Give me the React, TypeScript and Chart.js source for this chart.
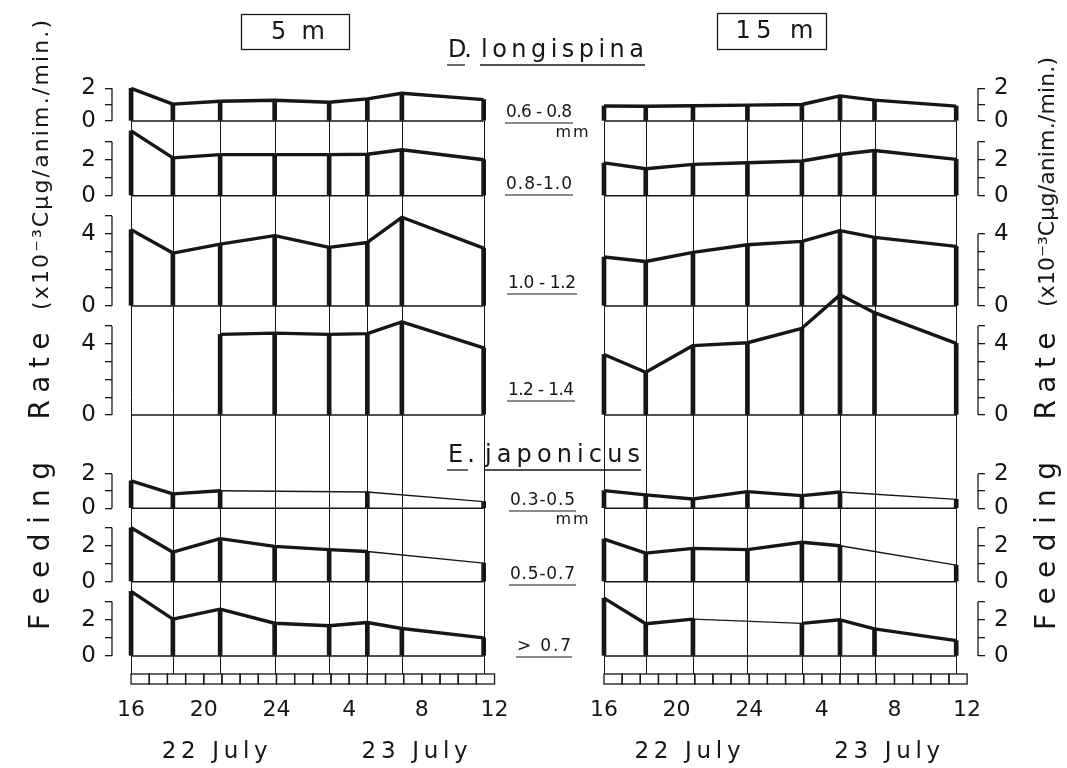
import React, { useEffect, useRef } from 'react';
import { Chart, registerables } from 'chart.js';

Chart.register(...registerables);

const FONT = '"DejaVu Sans", "Liberation Sans", Arial, sans-serif';
const INK = '#161616';

// ---------------- data ----------------
// sampling times, hours after 16:00 on 22 July
const sampleHours = [0, 2.3, 4.9, 7.9, 10.9, 13, 14.9, 19.4];
const hourTicks = [0, 4, 8, 12, 16, 20];
const hourLabels = ['16', '20', '24', '4', '8', '12'];
const dateHours = [4.6, 15.6];
const dateLabels = ['22 July', '23 July'];
const depthLabels = ['5 m', '15 m'];
const genusLabels = ['D.', 'E.'];
const speciesLabels = ['longispina', 'japonicus'];
const sizeClasses = ['0.6 - 0.8', '0.8-1.0', '1.0 - 1.2', '1.2 - 1.4', '0.3-0.5', '0.5-0.7', '> 0.7'];
const sizeUnit = 'mm';
const titleFeeding = 'Feeding';
const titleRate = 'Rate';
const titleUnit = '(x10\u207B\u00B3C\u03BCg/anim./min.)';

// feeding rate, x10^-3 C ug / animal / min ; null = not measured
// 5 m
const dl5_06 = [2.0, 1.03, 1.21, 1.27, 1.15, 1.35, 1.7, 1.31];
const dl5_08 = [3.6, 2.1, 2.28, 2.28, 2.28, 2.3, 2.55, 2.0];
const dl5_10 = [4.24, 2.94, 3.44, 3.91, 3.26, 3.53, 4.93, 3.22];
const dl5_12 = [null, null, 4.53, 4.6, 4.53, 4.57, 5.23, 3.77];
const ej5_03 = [1.6, 0.84, 1.02, null, null, 0.95, null, 0.39];
const ej5_05 = [3.0, 1.64, 2.39, 1.96, 1.78, 1.68, null, 1.03];
const ej5_07 = [3.57, 2.04, 2.59, 1.81, 1.67, 1.85, 1.52, 1.0];
// 15 m
const dl15_06 = [0.92, 0.9, 0.93, 0.97, 1.01, 1.54, 1.28, 0.91];
const dl15_08 = [1.82, 1.5, 1.74, 1.83, 1.93, 2.29, 2.51, 2.02];
const dl15_10 = [2.72, 2.47, 2.98, 3.4, 3.59, 4.19, 3.81, 3.31];
const dl15_12 = [3.4, 2.4, 3.9, 4.06, 4.87, 6.75, 5.75, 4.02];
const ej15_03 = [1.03, 0.78, 0.54, 0.97, 0.74, 0.95, null, 0.52];
const ej15_05 = [2.37, 1.59, 1.85, 1.78, 2.19, 2.0, null, 0.92];
const ej15_07 = [3.2, 1.78, 2.04, null, 1.8, 2.0, 1.5, 0.85];

const series5m = [dl5_06, dl5_08, dl5_10, dl5_12, ej5_03, ej5_05, ej5_07];
const series15m = [dl15_06, dl15_08, dl15_10, dl15_12, ej15_03, ej15_05, ej15_07];

// axis bracket tops (tick every unit) and labelled step
const axisTop5m = [2, 3, 5, 5, 2, 3, 3];
const axisTop15m = [2, 3, 4, 5, 2, 3, 3];
const axisLabelStep = [2, 2, 4, 4, 2, 2, 2];

// ---------------- layout ----------------
const ROW_BANDS = [
  { top: 80, base: 121, bottom: 126, unit: 16.35 },
  { top: 126, base: 195.7, bottom: 200, unit: 18 },
  { top: 200, base: 306, bottom: 310, unit: 18 },
  { top: 310, base: 415, bottom: 440, unit: 17.8 },
  { top: 440, base: 508.3, bottom: 512, unit: 17.2 },
  { top: 512, base: 581.7, bottom: 586, unit: 18 },
  { top: 586, base: 656, bottom: 656, unit: 18.1 },
];

function spaced(ctx: CanvasRenderingContext2D, text: string, cx: number, cy: number, width: number, font: string, rot = 0) {
  ctx.save();
  ctx.font = font;
  ctx.fillStyle = INK;
  const chars = Array.from(text);
  const ws = chars.map((c) => ctx.measureText(c).width);
  const w0 = ws.reduce((a, b) => a + b, 0);
  const s = chars.length > 1 ? (width - w0) / (chars.length - 1) : 0;
  ctx.translate(cx, cy);
  if (rot) ctx.rotate(rot);
  ctx.textBaseline = 'middle';
  ctx.textAlign = 'left';
  let x = -width / 2;
  chars.forEach((c, i) => {
    ctx.fillText(c, x, 0);
    x += ws[i] + s;
  });
  ctx.restore();
}

function hline(ctx: CanvasRenderingContext2D, x1: number, x2: number, y: number, w = 1.3) {
  ctx.save();
  ctx.strokeStyle = INK;
  ctx.lineWidth = w;
  ctx.beginPath();
  ctx.moveTo(x1, y);
  ctx.lineTo(x2, y);
  ctx.stroke();
  ctx.restore();
}

function drawAnnotations(ctx: CanvasRenderingContext2D) {
  // depth boxes
  const boxes = [
    { x: 241, y: 14, w: 108, h: 35, tw: 54 },
    { x: 717, y: 13, w: 109, h: 36, tw: 78 },
  ];
  depthLabels.forEach((t, i) => {
    const b = boxes[i];
    ctx.save();
    ctx.strokeStyle = INK;
    ctx.lineWidth = 1.3;
    ctx.strokeRect(b.x + 0.5, b.y + 0.5, b.w, b.h);
    ctx.restore();
    spaced(ctx, t, b.x + b.w / 2 + 3, b.y + b.h / 2 + 1, b.tw, `24px ${FONT}`);
  });
  // species names
  const sp = [
    { y: 51, g: [448, 472], n: [481, 644], ul: 65 },
    { y: 456, g: [448, 475], n: [485, 640], ul: 470 },
  ];
  sp.forEach((p, i) => {
    spaced(ctx, genusLabels[i], (p.g[0] + p.g[1]) / 2, p.y, p.g[1] - p.g[0], `24px ${FONT}`);
    spaced(ctx, speciesLabels[i], (p.n[0] + p.n[1]) / 2, p.y, p.n[1] - p.n[0], `24px ${FONT}`);
    hline(ctx, p.g[0] - 1, p.g[1] - 7, p.ul);
    hline(ctx, p.n[0] - 1, p.n[1] + 1, p.ul);
  });
  // size classes
  const sz = [
    { x: [506, 572], y: 113 },
    { x: [506, 572], y: 185 },
    { x: [508, 576], y: 284 },
    { x: [508, 574], y: 391 },
    { x: [510, 575], y: 501 },
    { x: [510, 575], y: 575 },
    { x: [517, 571], y: 647 },
  ];
  sizeClasses.forEach((t, i) => {
    const p = sz[i];
    spaced(ctx, t, (p.x[0] + p.x[1]) / 2, p.y, p.x[1] - p.x[0], `17px ${FONT}`);
    hline(ctx, p.x[0] - 1, p.x[1] + 1, p.y + 10, 1.2);
  });
  [133, 520].forEach((y) => spaced(ctx, sizeUnit, 572, y, 33, `16px ${FONT}`));
  // rotated axis titles (both sides)
  [
    { x: 42, unit: [165, 290] },
    { x: 1048, unit: [182, 250] },
  ].forEach((s) => {
    spaced(ctx, titleFeeding, s.x, 546, 168, `28px ${FONT}`, -Math.PI / 2);
    spaced(ctx, titleRate, s.x, 376, 87, `28px ${FONT}`, -Math.PI / 2);
    spaced(ctx, titleUnit, s.x, s.unit[0], s.unit[1], `22px ${FONT}`, -Math.PI / 2);
  });
}

function panelPlugin(side: 'left' | 'right') {
  const left = side === 'left';
  const tops = left ? axisTop5m : axisTop15m;
  return {
    id: 'panelDecor' + side,
    beforeDatasetsDraw(chart: any) {
      const ctx: CanvasRenderingContext2D = chart.ctx;
      const xs = chart.scales.x;
      const area = chart.chartArea;
      const y0 = chart.scales.y0.getPixelForValue(0);
      const barTop = area.bottom + 18;
      ctx.save();
      ctx.strokeStyle = INK;
      ctx.lineWidth = 1;
      sampleHours.forEach((h) => {
        const x = Math.round(xs.getPixelForValue(h)) + 0.5;
        ctx.beginPath();
        ctx.moveTo(x, y0);
        ctx.lineTo(x, barTop);
        ctx.stroke();
      });
      ctx.lineWidth = 1.3;
      for (let h = 0; h < 20; h++) {
        const x1 = xs.getPixelForValue(h);
        const x2 = xs.getPixelForValue(h + 1);
        ctx.strokeRect(x1, barTop, x2 - x1, 10);
      }
      tops.forEach((t, r) => {
        const s = chart.scales['y' + r];
        const x = left ? s.right : s.left;
        ctx.beginPath();
        ctx.moveTo(x, s.getPixelForValue(0));
        ctx.lineTo(x, s.getPixelForValue(t));
        ctx.stroke();
      });
      ctx.restore();
    },
    afterDraw(chart: any) {
      const ctx: CanvasRenderingContext2D = chart.ctx;
      const xs = chart.scales.x;
      dateLabels.forEach((t, i) => {
        spaced(ctx, t, xs.getPixelForValue(dateHours[i]), 752, 106, `23px ${FONT}`);
      });
      if (left) drawAnnotations(ctx);
    },
  };
}

function buildConfig(side: 'left' | 'right') {
  const left = side === 'left';
  const series = left ? series5m : series15m;
  const axisTops = left ? axisTop5m : axisTop15m;
  const xMin = left ? -1.05 : -0.33;
  const xMax = left ? 20.3 : 20.6;
  const datasets: any[] = [];
  const scales: any = {};
  series.forEach((vals, r) => {
    const id = 'y' + r;
    const pts: { x: number; y: number; k: number }[] = [];
    vals.forEach((v, k) => {
      if (v !== null && v !== undefined) pts.push({ x: sampleHours[k], y: v as number, k });
    });
    datasets.push({
      type: 'line',
      data: pts,
      xAxisID: 'x',
      yAxisID: id,
      borderColor: INK,
      borderWidth: 3.4,
      pointRadius: 0,
      tension: 0,
      clip: false,
      borderJoinStyle: 'round',
      segment: {
        borderWidth: (c: any) => (pts[c.p1DataIndex].k - pts[c.p0DataIndex].k > 1 ? 1.4 : 3.4),
      },
    });
    datasets.push({
      type: 'bar',
      data: pts,
      xAxisID: 'x',
      yAxisID: id,
      backgroundColor: INK,
      borderWidth: 0,
      barThickness: 4,
      grouped: false,
      clip: false,
    });
    datasets.push({
      type: 'line',
      data: [
        { x: sampleHours[0], y: 0 },
        { x: sampleHours[sampleHours.length - 1], y: 0 },
      ],
      xAxisID: 'x',
      yAxisID: id,
      borderColor: INK,
      borderWidth: 1.4,
      pointRadius: 0,
      clip: false,
    });
    const band = ROW_BANDS[r];
    const top = axisTops[r];
    const step = axisLabelStep[r];
    scales[id] = {
      type: 'linear',
      position: side,
      stack: 'rows',
      stackWeight: band.bottom - band.top,
      weight: left ? 10 - r : r + 1,
      bounds: 'data',
      min: -(band.bottom - band.base) / band.unit,
      max: (band.base - band.top) / band.unit,
      afterBuildTicks: (s: any) => {
        s.ticks = Array.from({ length: top + 1 }, (_, v) => ({ value: v }));
      },
      afterFit: (s: any) => {
        s.width = 40;
      },
      ticks: {
        autoSkip: false,
        padding: 9,
        color: INK,
        font: { family: FONT, size: 23 },
        callback: (v: number) => (v % step === 0 ? String(v) : ''),
      },
      grid: { drawOnChartArea: false, drawTicks: true, tickLength: 7, color: INK, lineWidth: 1.3 },
      border: { display: false },
    };
  });
  scales.x = {
    type: 'linear',
    position: 'bottom',
    offset: false,
    min: xMin,
    max: xMax,
    bounds: 'data',
    afterBuildTicks: (s: any) => {
      s.ticks = hourTicks.map((v) => ({ value: v }));
    },
    afterFit: (s: any) => {
      s.height = 112;
    },
    ticks: {
      autoSkip: false,
      maxRotation: 0,
      padding: 0,
      color: INK,
      font: { family: FONT, size: 22 },
      callback: (v: number) => {
        const i = hourTicks.indexOf(v);
        return i >= 0 ? hourLabels[i] : '';
      },
    },
    grid: { display: true, offset: false, drawOnChartArea: false, drawTicks: true, tickLength: 41, color: 'rgba(0,0,0,0)' },
    border: { display: false },
  };
  return {
    type: 'line',
    data: { datasets },
    options: {
      responsive: false,
      animation: false,
      events: [],
      layout: {
        padding: left
          ? { left: 72, right: 567, top: 80, bottom: 0 }
          : { left: 598, right: 49, top: 80, bottom: 0 },
      },
      plugins: { legend: { display: false }, tooltip: { enabled: false }, title: { display: false } },
      scales,
    },
    plugins: [panelPlugin(side)],
  };
}

function Panel({ side }: { side: 'left' | 'right' }) {
  const ref = useRef<HTMLCanvasElement | null>(null);
  useEffect(() => {
    if (!ref.current) return;
    const chart = new Chart(ref.current, buildConfig(side) as any);
    return () => chart.destroy();
  }, [side]);
  return (
    <canvas
      ref={ref}
      width={1067}
      height={768}
      style={{ position: 'absolute', left: 0, top: 0, width: 1067, height: 768 }}
    />
  );
}

export default function App() {
  return (
    <div style={{ position: 'absolute', left: 0, top: 0, width: 1067, height: 768, background: '#fff', overflow: 'hidden' }}>
      <Panel side="left" />
      <Panel side="right" />
    </div>
  );
}
